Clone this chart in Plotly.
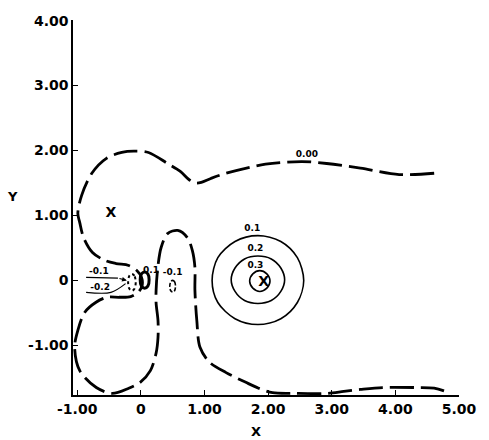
import plotly.graph_objects as go

# ---- contour lines, listed as (x, y) vertices in plot units ----
# zero-level contour (one continuous curve, dashed)
zero_x = [4.61, 4.06, 3.45, 2.92, 2.53, 1.96, 1.34, 1.10, 0.95, 0.86, 0.76, 0.62, 0.42, 0.12,
          -0.11, -0.30, -0.54, -0.77, -0.93, -0.99, -0.96, -0.90, -0.76, -0.57, -0.39, -0.19,
          -0.06, 0.01, 0.02, -0.04, -0.16, -0.34, -0.53, -0.71, -0.88, -0.99, -1.04, -0.96,
          -0.70, -0.45, -0.19, -0.01, 0.15, 0.24, 0.27, 0.27, 0.24, 0.24, 0.27, 0.32,
          0.42, 0.58, 0.73, 0.81, 0.85, 0.85, 0.88, 0.93, 1.08, 1.34, 1.65, 1.85, 2.07,
          2.42, 2.92, 3.19, 3.45, 3.80, 4.31, 4.61, 4.87]
zero_y = [1.65, 1.63, 1.73, 1.80, 1.83, 1.79, 1.65, 1.57, 1.51, 1.50, 1.55, 1.68, 1.80, 1.97,
          1.99, 1.97, 1.88, 1.65, 1.31, 1.03, 0.89, 0.66, 0.43, 0.31, 0.26, 0.23,
          0.15, 0.05, -0.08, -0.18, -0.25, -0.26, -0.26, -0.34, -0.49, -0.77, -1.03, -1.39,
          -1.65, -1.74, -1.66, -1.57, -1.39, -1.12, -0.88, -0.62, -0.35, -0.15, 0.23, 0.51,
          0.72, 0.77, 0.66, 0.46, 0.20, -0.15, -0.62, -1.03, -1.26, -1.42, -1.57, -1.66, -1.73,
          -1.74, -1.74, -1.71, -1.68, -1.65, -1.65, -1.66, -1.74]

# closed positive contours around the right-hand centre
c01_x = [2.56, 2.46, 2.20, 1.84, 1.48, 1.21, 1.12, 1.21, 1.48, 1.84, 2.20, 2.46, 2.56]
c01_y = [0.00, 0.35, 0.60, 0.69, 0.60, 0.35, 0.00, -0.34, -0.59, -0.68, -0.59, -0.34, 0.00]
c02_x = [2.26, 2.20, 2.05, 1.84, 1.63, 1.48, 1.42, 1.48, 1.63, 1.84, 2.05, 2.20, 2.26]
c02_y = [0.01, 0.19, 0.33, 0.375, 0.33, 0.19, 0.01, -0.17, -0.31, -0.355, -0.31, -0.17, 0.01]
c03_x = [2.03, 1.98, 1.87, 1.76, 1.71, 1.76, 1.87, 1.98, 2.03]
c03_y = [-0.01, 0.10, 0.15, 0.10, -0.01, -0.12, -0.17, -0.12, -0.01]

# small contours next to the origin
orig_pos_x = [0.13, 0.11, 0.06, 0.01, -0.01, 0.01, 0.06, 0.11, 0.13]
orig_pos_y = [0.01, 0.10, 0.13, 0.10, 0.01, -0.09, -0.12, -0.09, 0.01]
orig_neg_x = [-0.08, -0.10, -0.14, -0.18, -0.20, -0.18, -0.14, -0.10, -0.08]
orig_neg_y = [-0.03, 0.07, 0.10, 0.07, -0.03, -0.13, -0.16, -0.13, -0.03]
small_neg_x = [0.545, 0.53, 0.50, 0.47, 0.455, 0.47, 0.50, 0.53, 0.545]
small_neg_y = [-0.09, -0.02, 0.00, -0.02, -0.09, -0.16, -0.18, -0.16, -0.09]

# leader lines for the labels at the left
lead1_x = [-0.86, -0.36]
lead1_y = [0.045, 0.035]
lead2_x = [-0.86, -0.47, -0.24]
lead2_y = [-0.185, -0.185, -0.05]

# nuclear positions
nuc_x = [-0.47, 1.93]
nuc_y = [1.03, -0.03]

# contour labels
lab_text = ["0.00", "0.1", "0.2", "0.3", "-0.1", "-0.2", "0.1", "-0.1"]
lab_x = [2.61, 1.75, 1.80, 1.80, -0.66, -0.64, 0.16, 0.50]
lab_y = [1.93, 0.79, 0.485, 0.23, 0.13, -0.11, 0.15, 0.12]

x_ticks = [-1, 0, 1, 2, 3, 4, 5]
x_tick_text = ["-1.00", "0", "1.00", "2.00", "3.00", "4.00", "5.00"]
y_ticks = [-1, 0, 1, 2, 3, 4]
y_tick_text = ["-1.00", "0", "1.00", "2.00", "3.00", "4.00"]

FONT = "DejaVu Sans"
INK = "black"

fig = go.Figure()


def curve(x, y, width, dash, smooth=0.9):
    fig.add_trace(go.Scatter(x=x, y=y, mode="lines",
                             line=dict(color=INK, width=width, dash=dash,
                                       shape="spline", smoothing=smooth),
                             hoverinfo="skip", showlegend=False))


curve(zero_x, zero_y, 2.8, "24px,7px")
curve(c01_x, c01_y, 1.6, "solid")
curve(c02_x, c02_y, 1.6, "solid")
curve(c03_x, c03_y, 1.6, "solid")
curve(orig_pos_x, orig_pos_y, 3.0, "solid")
curve(orig_neg_x, orig_neg_y, 2.0, "dot")
curve(small_neg_x, small_neg_y, 1.6, "4px,2px")
curve(lead1_x, lead1_y, 1.2, "solid")
curve(lead2_x, lead2_y, 1.2, "solid")

fig.add_annotation(x=-0.22, y=0.0, ax=-0.36, ay=0.035, xref="x", yref="y",
                   axref="x", ayref="y", text="", showarrow=True,
                   arrowhead=2, arrowsize=0.8, arrowwidth=1.2, arrowcolor=INK)

fig.add_trace(go.Scatter(x=nuc_x, y=nuc_y, mode="text", text=["X", "X"],
                         textfont=dict(family=FONT, size=14, color=INK, weight="bold"),
                         hoverinfo="skip", showlegend=False))

fig.add_trace(go.Scatter(x=lab_x, y=lab_y, mode="text", text=lab_text,
                         textfont=dict(family=FONT, size=9, color=INK, weight="bold"),
                         hoverinfo="skip", showlegend=False))

axis_common = dict(showgrid=False, zeroline=False, showline=True, linecolor=INK,
                   linewidth=1.5, ticks="inside", ticklen=5, tickwidth=1.2,
                   tickcolor=INK,
                   tickfont=dict(family=FONT, size=14, color=INK, weight="bold"))

fig.update_xaxes(range=[-1.066, 5.0], tickvals=x_ticks, ticktext=x_tick_text,
                 **axis_common)
fig.update_yaxes(range=[-1.765, 4.01], tickvals=y_ticks, ticktext=y_tick_text,
                 **axis_common)

fig.add_annotation(text="X", x=0.473, y=-0.096, xref="paper", yref="paper",
                   xanchor="center", yanchor="middle", showarrow=False,
                   font=dict(family=FONT, size=13, color=INK, weight="bold"))
fig.add_annotation(text="Y", x=-0.157, y=1.29, xref="paper", yref="y",
                   xanchor="center", yanchor="middle", showarrow=False,
                   font=dict(family=FONT, size=13, color=INK, weight="bold"))

fig.update_layout(width=489, height=440, margin=dict(l=73, r=21, t=20, b=45),
                  plot_bgcolor="white", paper_bgcolor="white")

fig.write_html("out.html")
